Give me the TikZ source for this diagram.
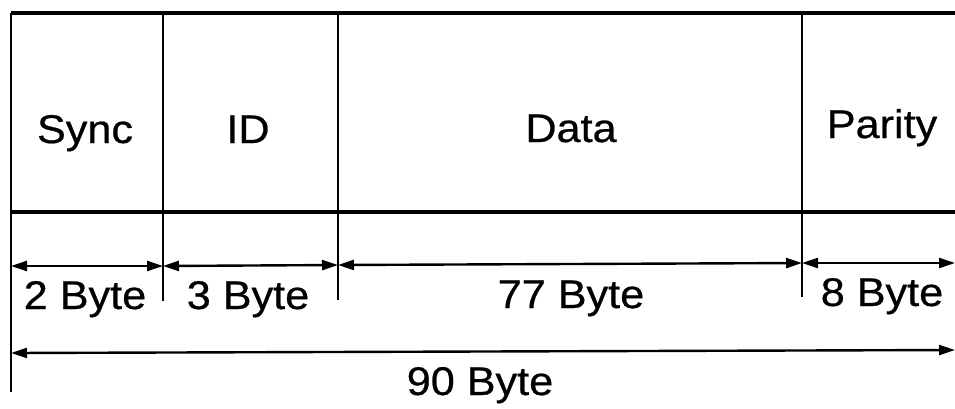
\documentclass[tikz,border=0pt]{standalone}
\usepackage{fontspec}
\setmainfont{Liberation Sans}[FakeStretch=1.08,FakeBold=0.6]
\usetikzlibrary{arrows.meta}
\begin{document}
\begin{tikzpicture}[x=1pt,y=-1pt,
  frame/.style={line width=3.2pt},
  divline/.style={line width=2.8pt},
  dimarrow/.style={line width=2.4pt,{Triangle[length=16pt,width=10pt]}-{Triangle[length=16pt,width=10pt]}},
  lbl/.style={font=\fontsize{40}{46}\selectfont,inner sep=0pt,anchor=base}]
\useasboundingbox (0,0) rectangle (955,408);
% coordinates
\coordinate (tl) at (11,13);
\coordinate (tr) at (955,13);
\coordinate (ml) at (11,212);
\coordinate (mr) at (955,212);
\coordinate (lb) at (11,392);
\coordinate (d1t) at (163,13);
\coordinate (d1b) at (163,301);
\coordinate (d2t) at (338,13);
\coordinate (d2b) at (338,300);
\coordinate (d3t) at (802,13);
\coordinate (d3b) at (802,297);
\coordinate (a0) at (11,266);
\coordinate (a1) at (163,266);
\coordinate (a2) at (338,265);
\coordinate (a3) at (802,263);
\coordinate (a4) at (955,263);
\coordinate (b0) at (11,353);
\coordinate (b1) at (955,350);
% frame
\draw[frame] (tl) -- (tr);
\draw[frame] (ml) -- (mr);
\draw[divline] (tl) -- (lb);
\draw[divline] (d1t) -- (d1b);
\draw[divline] (d2t) -- (d2b);
\draw[divline] (d3t) -- (d3b);
% dimension arrows
\draw[dimarrow] (a0) -- (a1);
\draw[dimarrow] (a1) -- (a2);
\draw[dimarrow] (a2) -- (a3);
\draw[dimarrow] (a3) -- (a4);
\draw[dimarrow] (b0) -- (b1);
% labels
\node[lbl] (sync) at (85,143) {Sync};
\node[lbl] (id) at (248,143) {ID};
\node[lbl] (data) at (571,142) {Data};
\node[lbl] (parity) at (882,138) {Parity};
\node[lbl] (b2) at (85,309) {2 Byte};
\node[lbl] (b3) at (248,309) {3 Byte};
\node[lbl] (b77) at (571,308) {77 Byte};
\node[lbl] (b8) at (882,306) {8 Byte};
\node[lbl] (b90) at (480,395) {90 Byte};
\end{tikzpicture}
\end{document}
